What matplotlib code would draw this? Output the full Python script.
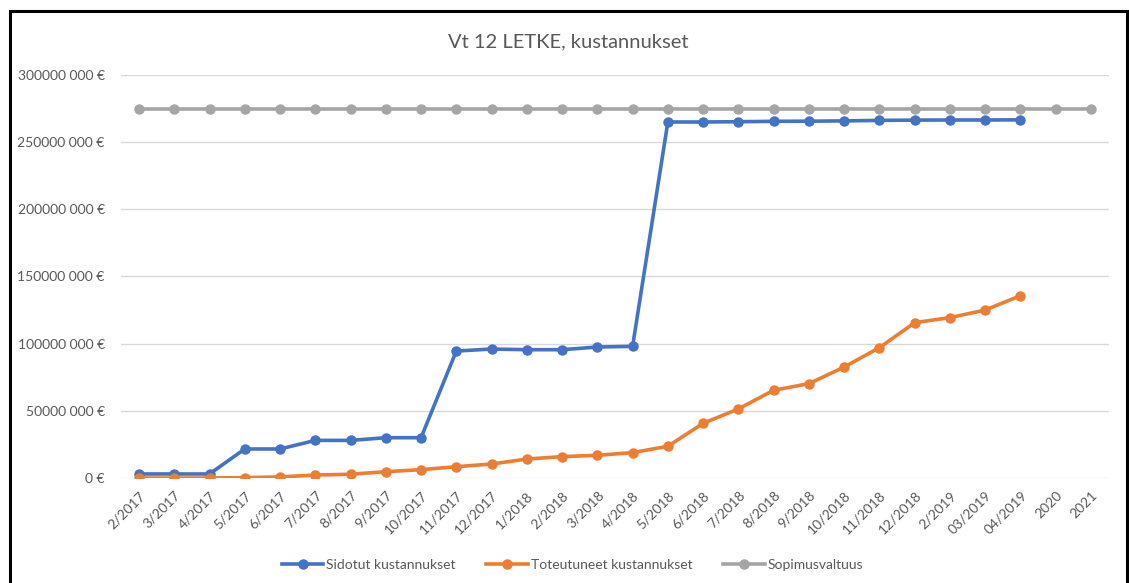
import numpy as np
import matplotlib
matplotlib.use('Agg')
import matplotlib.pyplot as plt
from matplotlib.patches import Rectangle
from matplotlib.ticker import FuncFormatter

plt.rcParams['font.family'] = ['Lato', 'DejaVu Sans']

months = ['2/2017', '3/2017', '4/2017', '5/2017', '6/2017', '7/2017', '8/2017', '9/2017',
          '10/2017', '11/2017', '12/2017', '1/2018', '2/2018', '3/2018', '4/2018', '5/2018',
          '6/2018', '7/2018', '8/2018', '9/2018', '10/2018', '11/2018', '12/2018', '2/2019',
          '03/2019', '04/2019', '2020', '2021']

# values in million euros
sidotut = [3.0, 3.0, 3.0, 21.6, 21.6, 28.0, 28.0, 30.0, 30.0, 94.5, 96.0, 95.5, 95.5, 97.5,
           98.0, 265.0, 265.0, 265.2, 265.5, 265.6, 265.8, 266.2, 266.4, 266.5, 266.5, 266.6]
toteutuneet = [0.0, 0.0, 0.0, 0.3, 0.8, 2.2, 2.8, 4.7, 6.2, 8.4, 10.4, 14.1, 15.9, 16.9,
               18.9, 23.6, 40.7, 51.4, 65.3, 70.2, 82.6, 97.0, 115.6, 119.4, 125.0, 135.7]
valtuus = [275.0] * 28

blue = '#4472C4'
orange = '#ED7D31'
grey = '#A5A5A5'
txt = '#595959'

fig = plt.figure(figsize=(11.29, 5.83), dpi=100)
ax = fig.add_axes([0.1075, 0.1801, 0.8744, 0.6913])

x = np.arange(len(months))
ax.plot(x[:len(sidotut)], np.array(sidotut) * 1e6, color=blue, lw=2.6, marker='o', ms=6.5,
        label='Sidotut kustannukset', zorder=4)
ax.plot(x[:len(toteutuneet)], np.array(toteutuneet) * 1e6, color=orange, lw=2.6, marker='o', ms=6.5,
        label='Toteutuneet kustannukset', zorder=4)
ax.plot(x, np.array(valtuus) * 1e6, color=grey, lw=2.6, marker='o', ms=6.5,
        label='Sopimusvaltuus', zorder=3)

ax.set_xlim(-0.5, len(months) - 0.5)
ax.set_ylim(0, 300e6)
ax.set_yticks(np.arange(0, 300e6 + 1, 50e6))


def eur(v, pos):
    v = int(round(v))
    if v == 0:
        return '0 €'
    return '%d 000 €' % (v // 1000)


ax.yaxis.set_major_formatter(FuncFormatter(eur))
ax.set_xticks(x)
ax.set_xticklabels(months, rotation=45, ha='right', rotation_mode='anchor')
ax.tick_params(axis='both', length=0, colors=txt, labelsize=10)
ax.tick_params(axis='x', pad=8)
ax.tick_params(axis='y', pad=12)
ax.grid(axis='y', color='#D9D9D9', lw=1)
ax.set_axisbelow(True)
for s in ax.spines.values():
    s.set_visible(False)

fig.text(0.503, 0.928, 'Vt 12 LETKE, kustannukset', ha='center', va='center', fontsize=14.5, color=txt)

fig.legend(loc='center', bbox_to_anchor=(0.507, 0.031), ncol=3, frameon=False, fontsize=10,
           handlelength=3.0, columnspacing=2.2, handletextpad=0.2, labelcolor=txt)

fig.patches.append(Rectangle((0.0085, -0.1), 0.9895, 1.081, transform=fig.transFigure,
                             fill=False, edgecolor='black', lw=2.2))

fig.savefig('out.png', dpi=100)
